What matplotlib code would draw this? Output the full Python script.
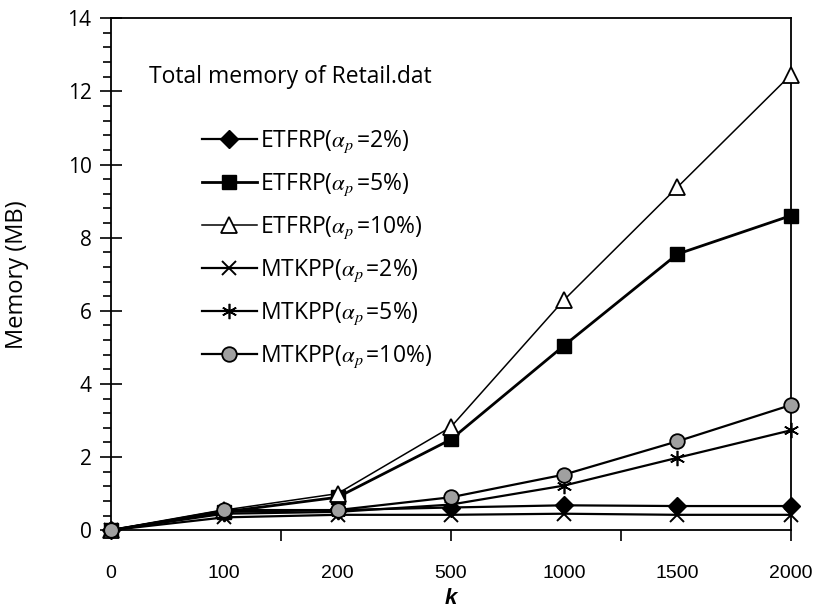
import numpy as np
import matplotlib.pyplot as plt
from matplotlib.ticker import MultipleLocator, FixedLocator

plt.rcParams['font.family'] = ['Open Sans', 'DejaVu Sans']
plt.rcParams['mathtext.fontset'] = 'stix'

k_labels = ['0', '100', '200', '500', '1000', '1500', '2000']
etfrp_2 = [0.0, 0.50, 0.55, 0.62, 0.68, 0.66, 0.66]
etfrp_5 = [0.0, 0.50, 0.90, 2.48, 5.05, 7.55, 8.60]
etfrp_10 = [0.0, 0.55, 1.00, 2.82, 6.30, 9.38, 12.45]
mtkpp_2 = [0.0, 0.35, 0.42, 0.42, 0.45, 0.42, 0.42]
mtkpp_5 = [0.0, 0.45, 0.50, 0.70, 1.22, 1.98, 2.73]
mtkpp_10 = [0.0, 0.55, 0.55, 0.90, 1.52, 2.43, 3.42]

x = np.arange(len(k_labels))

fig = plt.figure(figsize=(8.16, 6.08), dpi=100)
ax = fig.add_axes([0.136, 0.128, 0.833, 0.842])

star = (6, 2, 0)
series = [
    (etfrp_2, r'ETFRP($\alpha_p\,$=2%)', dict(marker='D', ms=9, mfc='k', mec='k', lw=1.6)),
    (etfrp_5, r'ETFRP($\alpha_p\,$=5%)', dict(marker='s', ms=10.5, mfc='k', mec='k', lw=2.0)),
    (etfrp_10, r'ETFRP($\alpha_p\,$=10%)', dict(marker='^', ms=11, mfc='white', mec='k', mew=1.3, lw=1.1)),
    (mtkpp_2, r'MTKPP($\alpha_p\,$=2%)', dict(marker='x', ms=10, mec='k', mew=1.4, lw=1.6)),
    (mtkpp_5, r'MTKPP($\alpha_p\,$=5%)', dict(marker=star, ms=11, mec='k', mew=1.2, lw=1.6)),
    (mtkpp_10, r'MTKPP($\alpha_p\,$=10%)', dict(marker='o', ms=10.5, mfc='#a0a0a0', mec='k', mew=1.3, lw=1.6)),
]
for vals, lab, st in series:
    ax.plot(x, vals, color='k', label=lab, clip_on=False, zorder=3, **st)

ax.set_xlim(0, 6)
ax.set_ylim(0, 14)
ax.yaxis.set_major_locator(MultipleLocator(2))
ax.yaxis.set_minor_locator(MultipleLocator(0.4))
ax.tick_params(axis='y', which='major', direction='inout', length=16, width=1.2,
               labelsize=15, pad=6)
ax.tick_params(axis='y', which='minor', direction='out', length=6, width=1.2)

# category axis: ticks sit between groups, labels drawn under each group
ax.xaxis.set_major_locator(FixedLocator([1.5, 3, 4.5, 6]))
ax.set_xticklabels([])
ax.tick_params(axis='x', which='major', direction='out', length=8, width=1.2)
for xi, lab in zip(x, k_labels):
    ax.text(xi, -0.068, lab, transform=ax.get_xaxis_transform(),
            ha='center', va='top', fontsize=14, family='Liberation Sans')

for sp in ax.spines.values():
    sp.set_linewidth(1.3)

ax.set_ylabel('Memory (MB)', fontsize=17)
ax.yaxis.set_label_coords(-0.121, 0.5)
ax.text(0.5, -0.112, 'k', transform=ax.transAxes, ha='center', va='top',
        fontsize=16, fontweight='bold', fontstyle='italic', family='Liberation Sans')

ax.text(0.056, 0.885, 'Total memory of Retail.dat', transform=ax.transAxes,
        fontsize=16.5, va='center', ha='left')
ax.legend(loc='upper left', bbox_to_anchor=(0.11, 0.816), frameon=False,
          fontsize=16.5, handlelength=2.4, labelspacing=0.72, handletextpad=0.15,
          borderpad=0.2)

fig.savefig('out.png', dpi=100, facecolor='white')
